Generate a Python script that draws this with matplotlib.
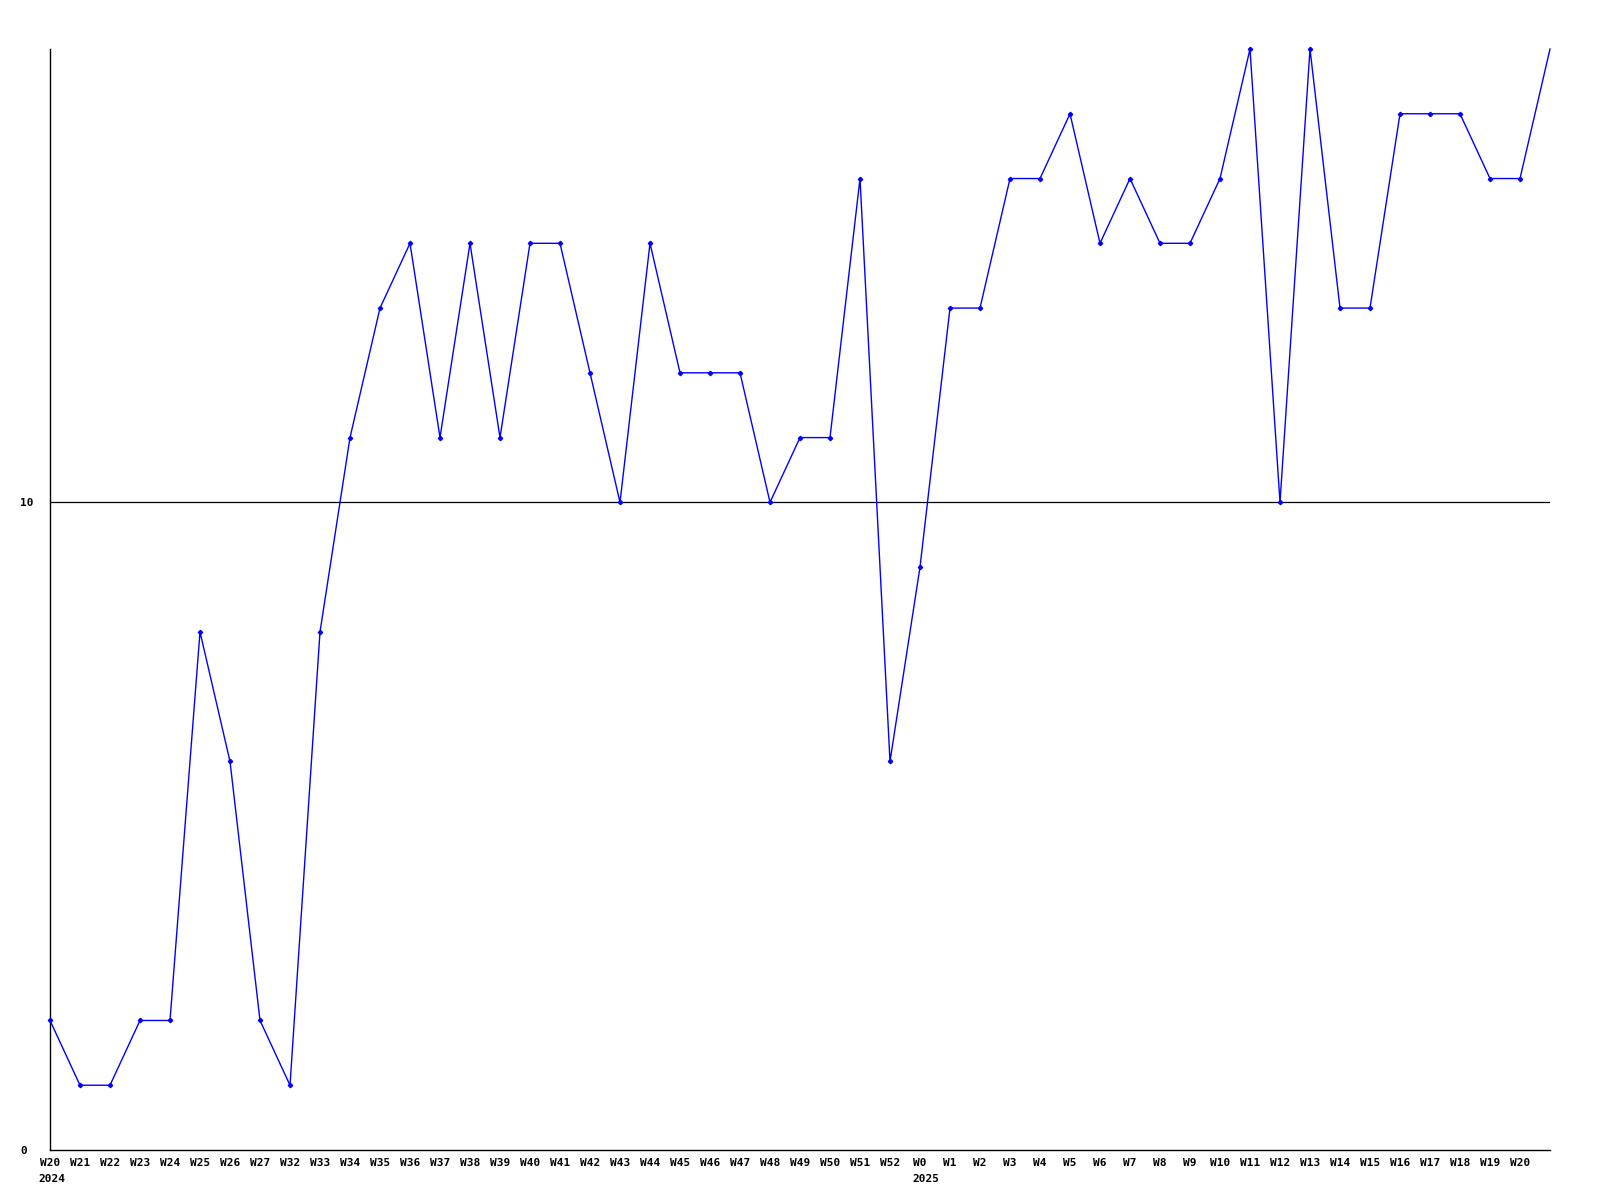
import matplotlib

matplotlib.use("Agg")
import matplotlib.pyplot as plt

# weekly counts, 2024-W20 .. 2025-W21 (last point has no label)
weeks = ["W20", "W21", "W22", "W23", "W24", "W25", "W26", "W27", "W32", "W33",
         "W34", "W35", "W36", "W37", "W38", "W39", "W40", "W41", "W42", "W43",
         "W44", "W45", "W46", "W47", "W48", "W49", "W50", "W51", "W52", "W0",
         "W1", "W2", "W3", "W4", "W5", "W6", "W7", "W8", "W9", "W10",
         "W11", "W12", "W13", "W14", "W15", "W16", "W17", "W18", "W19", "W20"]
values = [2, 1, 1, 2, 2, 8, 6, 2, 1, 8,
          11, 13, 14, 11, 14, 11, 14, 14, 12, 10,
          14, 12, 12, 12, 10, 11, 11, 15, 6, 9,
          13, 13, 15, 15, 16, 14, 15, 14, 14, 15,
          17, 10, 17, 13, 13, 16, 16, 16, 15, 15,
          17]
years = {0: "2024", 29: "2025"}
y_ticks = [0, 10]
y_max = 17

FONT = dict(family="DejaVu Sans Mono", weight="bold", fontsize=8)

fig = plt.figure(figsize=(16, 12), dpi=100)
fig.patch.set_facecolor("white")
ax = fig.add_axes([50 / 1600, 50 / 1200, 1500 / 1600, 1101 / 1200])

x = list(range(len(values)))
ax.plot(x, values, color="#0000ff", lw=1.0, marker="D", markersize=2.2,
        markevery=list(range(len(weeks))), clip_on=False, zorder=3)

ax.axhline(10, color="black", lw=0.9, zorder=2)
ax.set_xlim(0, len(values) - 1)
ax.set_ylim(0, y_max)

for s in ("top", "right"):
    ax.spines[s].set_visible(False)
for s in ("left", "bottom"):
    ax.spines[s].set_color("black")
    ax.spines[s].set_linewidth(1.0)

ax.set_xticks(range(len(weeks)))
ax.set_xticklabels(weeks, **FONT)
ax.set_yticks(y_ticks)
ax.set_yticklabels([str(v) for v in y_ticks], ha="left", **FONT)
ax.tick_params(axis="both", length=0)
ax.tick_params(axis="x", pad=6)
ax.tick_params(axis="y", pad=21.5)

# year under the first week of each year, left-aligned with that label
char_w = 0.602 * FONT["fontsize"]
for i, yr in years.items():
    half = len(weeks[i]) * char_w / 2
    ax.annotate(yr, (i, 0), xycoords=("data", "axes fraction"),
                xytext=(-half - 1, -17), textcoords="offset points",
                ha="left", va="top", annotation_clip=False, **FONT)

fig.savefig("out.png", dpi=100, facecolor="white")
